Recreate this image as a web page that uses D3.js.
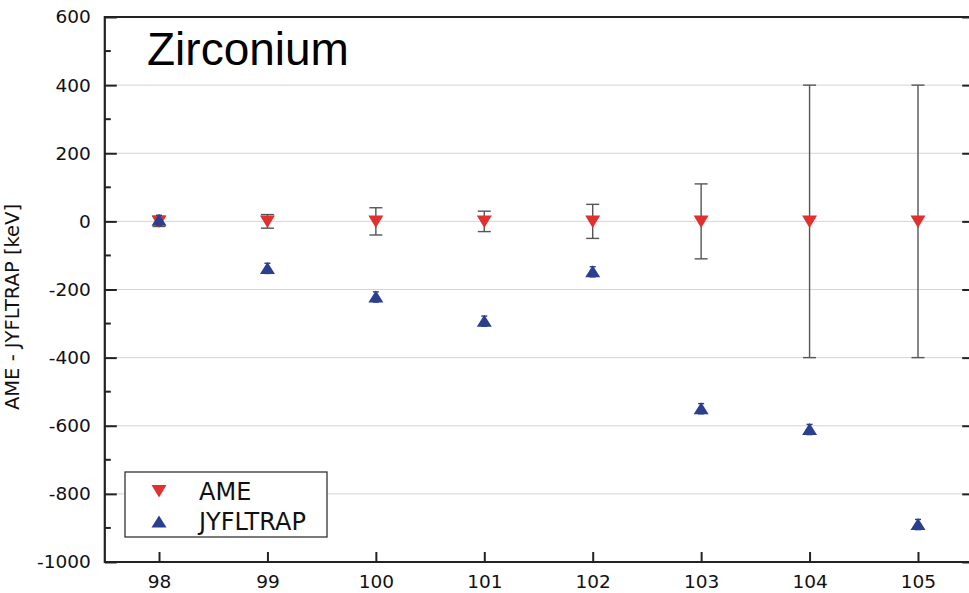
<!DOCTYPE html>
<html><head><meta charset="utf-8">
<script src="https://cdn.jsdelivr.net/npm/d3@7"></script>
<style>body{margin:0;background:#fff;}svg{display:block;}</style>
</head><body>
<svg id="c" width="969" height="593"></svg>
<script>
const massNumbers = [98, 99, 100, 101, 102, 103, 104, 105];
const ameValues = [0, 0, 0, 0, 0, 0, 0, 0];
const ameErrors = [15, 20, 40, 30, 50, 110, 400, 400];
const jyflValues = [3, -138, -222, -293, -148, -550, -611, -890];
const jyflErrors = [15, 15, 15, 15, 15, 15, 15, 15];
const yTicks = [600, 400, 200, 0, -200, -400, -600, -800, -1000];
const seriesNames = ["AME", "JYFLTRAP"];
const titleText = "Zirconium";
const yLabel = "AME - JYFLTRAP [keV]";

const svg = d3.select("#c");
const L = 104.8, R = 972.2, T = 17, B = 562;
const x = d3.scaleLinear().domain([97.5, 105.5]).range([L, R]);
const y = d3.scaleLinear().domain([-1000, 600]).range([B, T]);
const fmt = d => String(d);

svg.append("g").selectAll("line").data(yTicks.filter(v => v > -1000 && v < 600)).join("line")
  .attr("x1", L).attr("x2", R).attr("y1", d => y(d)).attr("y2", d => y(d))
  .attr("stroke", "#d4d4d4").attr("stroke-width", 1);

const fontTicks = "DejaVu Sans, Verdana, sans-serif";
const yAxis = d3.axisLeft(y).tickValues(yTicks).tickSize(-12).tickPadding(14).tickFormat(fmt);
const gy = svg.append("g").attr("transform", `translate(${L},0)`).call(yAxis);
gy.select(".domain").remove();
gy.selectAll(".tick line").attr("stroke", "#222").attr("stroke-width", 2);
gy.selectAll(".tick text").attr("x", -14).attr("font-family", fontTicks).attr("font-size", 18.5).attr("fill", "#111");
const minor = d3.range(-900, 600, 200);
svg.append("g").selectAll("line").data(minor).join("line")
  .attr("x1", L).attr("x2", L + 6).attr("y1", d => y(d)).attr("y2", d => y(d))
  .attr("stroke", "#222").attr("stroke-width", 2);

const gr = svg.append("g").attr("transform", `translate(${R},0)`)
  .call(d3.axisRight(y).tickValues(yTicks).tickSize(-10).tickFormat(""));
gr.select(".domain").remove();
gr.selectAll(".tick line").attr("stroke", "#222").attr("stroke-width", 2);

const xAxis = d3.axisBottom(x).tickValues(massNumbers).tickSize(-10).tickPadding(13).tickFormat(fmt);
const gx = svg.append("g").attr("transform", `translate(0,${B})`).call(xAxis);
gx.select(".domain").remove();
gx.selectAll(".tick line").attr("stroke", "#222").attr("stroke-width", 2);
gx.selectAll(".tick text").attr("font-family", fontTicks).attr("font-size", 18.5).attr("fill", "#111");

svg.append("path").attr("d", `M${L},${B}V${T}H${R}V${B}Z`).attr("fill", "none")
  .attr("stroke", "#222").attr("stroke-width", 2.2);

function errBars(vals, errs, color, cap) {
  const g = svg.append("g").attr("stroke", color).attr("stroke-width", 1.4).attr("fill", "none");
  massNumbers.forEach((m, i) => {
    const cx = x(m), y1 = y(vals[i] + errs[i]), y2 = y(vals[i] - errs[i]);
    g.append("line").attr("x1", cx).attr("x2", cx).attr("y1", y1).attr("y2", y2);
    g.append("line").attr("x1", cx - cap).attr("x2", cx + cap).attr("y1", y1).attr("y2", y1);
    g.append("line").attr("x1", cx - cap).attr("x2", cx + cap).attr("y1", y2).attr("y2", y2);
  });
}
errBars(ameValues, ameErrors, "#555", 6.5);

const red = "#e0312f", blue = "#2b3f8e";
function downTri(cx, cy) { return `M${cx-7.5},${cy-6}L${cx+7.5},${cy-6}L${cx},${cy+6.5}Z`; }
function upTri(cx, cy) { return `M${cx-7.5},${cy+5.5}L${cx+7.5},${cy+5.5}L${cx},${cy-6.5}Z`; }

svg.append("g").selectAll("path").data(massNumbers).join("path")
  .attr("d", (m, i) => downTri(x(m), y(ameValues[i]))).attr("fill", red);

errBars(jyflValues, jyflErrors, blue, 3);
svg.append("g").selectAll("path").data(massNumbers).join("path")
  .attr("d", (m, i) => upTri(x(m), y(jyflValues[i]))).attr("fill", blue);

svg.append("text").attr("x", 147).attr("y", 65).text(titleText)
  .attr("font-family", "Liberation Sans, Arial, sans-serif").attr("font-size", 46).attr("fill", "#000");

svg.append("text").attr("transform", `translate(19,307) rotate(-90)`).attr("text-anchor", "middle")
  .text(yLabel).attr("font-family", fontTicks).attr("font-size", 19.5).attr("fill", "#111");

const lg = svg.append("g");
lg.append("rect").attr("x", 125).attr("y", 472).attr("width", 202).attr("height", 65)
  .attr("fill", "#fff").attr("stroke", "#333").attr("stroke-width", 1.3);
lg.append("path").attr("d", downTri(159, 491)).attr("fill", red);
lg.append("path").attr("d", upTri(159, 522)).attr("fill", blue);
lg.selectAll("text").data(seriesNames).join("text")
  .attr("x", 199).attr("y", (d, i) => 500 + i * 30).text(d => d)
  .attr("font-family", fontTicks).attr("font-size", 24).attr("fill", "#111");
</script>
</body></html>
